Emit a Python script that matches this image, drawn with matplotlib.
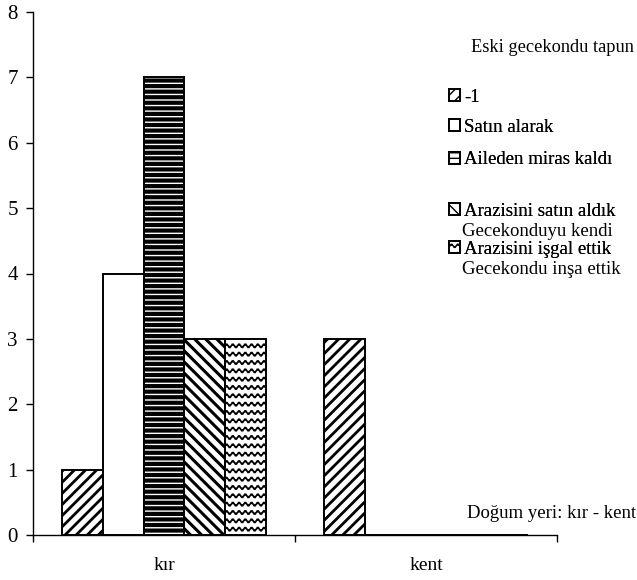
import warnings
import numpy as np
import matplotlib
matplotlib.use("Agg")
import matplotlib.pyplot as plt
from matplotlib import hatch as mhatch
from matplotlib.path import Path
from matplotlib.ticker import FixedLocator

warnings.filterwarnings("ignore")

categories = ["kır", "kent"]
series_names = ["-1", "Satın alarak", "Aileden miras kaldı",
                "Arazisini satın aldık", "Arazisini işgal ettik"]
extra_lines = ["", "", "", "Gecekonduyu kendi", "Gecekondu inşa ettik"]
values_kir = [1, 4, 7, 3, 3]
values_kent = [3, 0, 0, 0, 0]
yticks = [0, 1, 2, 3, 4, 5, 6, 7, 8]
legend_title = "Eski gecekondu tapun"
xaxis_note = "Doğum yeri: kır - kent"


class WaveHatch(mhatch.HatchPatternBase):
    """Horizontal wavy lines, selected by '~'."""
    def __init__(self, hatch, density):
        self.num_lines = int(hatch.count('~') * 12)
        self.npts = 97
        self.num_vertices = self.num_lines * self.npts

    def set_vertices_and_codes(self, vertices, codes):
        if self.num_lines <= 0:
            return
        x = np.linspace(0.0, 1.0, self.npts)
        k = 0
        for i in range(self.num_lines):
            y0 = (i + 0.5) / self.num_lines
            y = y0 + 0.018 * np.sin(2 * np.pi * 16 * x)
            vertices[k:k + self.npts, 0] = x
            vertices[k:k + self.npts, 1] = y
            codes[k] = Path.MOVETO
            codes[k + 1:k + self.npts] = Path.LINETO
            k += self.npts


mhatch._hatch_types.append(WaveHatch)

plt.rcParams['font.family'] = ['Liberation Serif', 'DejaVu Serif']
plt.rcParams['hatch.color'] = 'black'

hatches = ['///', '', '---', '\\\\\\', '~']
hatch_lw = [2.0, 1.0, 3.0, 2.2, 1.2]

fig = plt.figure(figsize=(6.37, 5.80), dpi=100)
ax = fig.add_axes([33 / 637, 1 - 535 / 580, (557 - 33) / 637, (535 - 12) / 580])

x = np.arange(len(categories))
width = 0.155
data = np.array([values_kir, values_kent]).T  # series x category
bars = []
for i, name in enumerate(series_names):
    with plt.rc_context({'hatch.linewidth': hatch_lw[i]}):
        b = ax.bar(x + (i - 2) * width, data[i], width,
                   facecolor='white', edgecolor='black', linewidth=1.4,
                   hatch=hatches[i] if hatches[i] else None, label=name)
        for p in b.patches:
            try:
                p.set_hatch_linewidth(hatch_lw[i])
            except AttributeError:
                pass
    bars.append(b)

ax.set_xlim(-0.5, 1.5)
ax.set_ylim(0, 8)
ax.set_yticks(yticks)
ax.set_yticklabels([str(v) for v in yticks], fontsize=15)
ax.set_xticks(x)
ax.set_xticklabels(categories, fontsize=14)
ax.tick_params(axis='x', which='major', length=0, pad=16)
ax.xaxis.set_minor_locator(FixedLocator([-0.5, 0.5, 1.5]))
ax.tick_params(axis='x', which='minor', length=5, width=1, direction='out')
ax.tick_params(axis='y', length=5, width=1, direction='out', pad=6)
for s in ['top', 'right']:
    ax.spines[s].set_visible(False)
for s in ['left', 'bottom']:
    ax.spines[s].set_linewidth(1.0)

# Legend title
fig.text(471 / 637, 1 - 48 / 580, legend_title, fontsize=13.2,
         ha='left', va='center')

# Legend entries (one per row, positioned like the original)
entry_y = [97, 127, 160, 211, 249]
for i, b in enumerate(bars):
    with plt.rc_context({'hatch.linewidth': 1.0}):
        leg = fig.legend([b.patches[0]], [series_names[i]],
                         loc='center left',
                         bbox_to_anchor=(449 / 637, 1 - entry_y[i] / 580),
                         bbox_transform=fig.transFigure,
                         frameon=False, borderpad=0, borderaxespad=0,
                         handlelength=0.6, handleheight=0.6,
                         handletextpad=0.2, fontsize=13.5)
    fig.add_artist(leg)
    if extra_lines[i]:
        fig.text(462 / 637, 1 - (entry_y[i] + 20) / 580, extra_lines[i],
                 fontsize=13.5, ha='left', va='center')

fig.text(467 / 637, 1 - 514 / 580, xaxis_note, fontsize=13.5,
         ha='left', va='center')

fig.savefig("out.png", dpi=100)
